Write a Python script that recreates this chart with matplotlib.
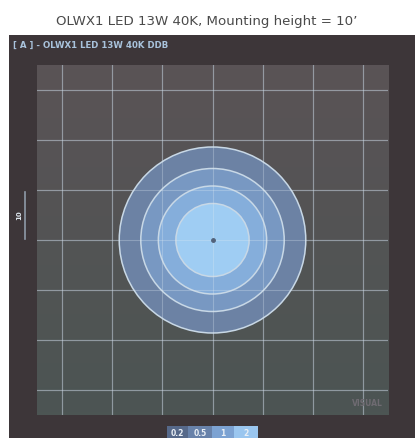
import numpy as np
import matplotlib.pyplot as plt
from matplotlib.patches import Circle, Rectangle
from matplotlib.colors import LinearSegmentedColormap

# isolines (fc) and their radius in feet
levels = [0.2, 0.5, 1, 2]
radii = [18.6, 14.3, 10.8, 7.3]
fills = ['#6c82a4', '#7898c2', '#85aedb', '#9fcdf3']
legend_cols = ['#56698a', '#6882aa', '#7ca2d2', '#9ac6ef']
grid_ft = [-30, -20, -10, 0, 10, 20, 30]
extent = 35

W, H = 415, 438
fig = plt.figure(figsize=(W / 100, H / 100), dpi=100)
fig.patch.set_facecolor('white')

def box(x0, y0, x1, y1):
    # pixel box (top-left origin) -> figure fraction
    return [x0 / W, 1 - y1 / H, (x1 - x0) / W, (y1 - y0) / H]

# dark panel behind everything
panel = fig.add_axes(box(9, 35, 415, 438))
panel.set_facecolor('#3d3639')
panel.set_xticks([])
panel.set_yticks([])
for s in panel.spines.values():
    s.set_visible(False)

fig.text(207 / W, 1 - 22 / H, 'OLWX1 LED 13W 40K, Mounting height = 10\u2019',
         ha='center', va='center', fontsize=9.6, color='#4a4a4a')
fig.text(13 / W, 1 - 45 / H, '[ A ] - OLWX1 LED 13W 40K DDB',
         ha='left', va='center', fontsize=6.2, color='#a9c3dc', weight='bold')

ax = fig.add_axes(box(37, 65, 388, 415))
ax.set_xlim(-extent, extent)
ax.set_ylim(-extent, extent)
# background shading, mauve at top to grey-green at bottom
grad = np.linspace(0, 1, 100)[:, None]
bg = LinearSegmentedColormap.from_list('bg', ['#4c5553', '#5a5356'])
ax.imshow(grad, cmap=bg, extent=(-extent, extent, -extent, extent),
          origin='lower', aspect='auto', zorder=0)

for g in grid_ft:
    ax.axvline(g, color='#9aa6b4', lw=0.9, alpha=0.45, zorder=1)
    ax.axhline(g, color='#9aa6b4', lw=0.9, alpha=0.45, zorder=1)

for r, c in zip(radii, fills):
    ax.add_patch(Circle((0, 0), r, facecolor=c, edgecolor='#c8d8e6',
                        lw=1.1, zorder=2))
for g in grid_ft:
    ax.axvline(g, color='#dce8f2', lw=0.8, alpha=0.3, zorder=3)
    ax.axhline(g, color='#dce8f2', lw=0.8, alpha=0.3, zorder=3)
ax.plot([0], [0], 'o', ms=2.5, color='#52627a', zorder=4)
ax.text(34, -33.5, 'VISUAL', ha='right', va='bottom', fontsize=5.5,
        color='#6f6b72', weight='bold', zorder=4)
ax.set_xticks([])
ax.set_yticks([])
for s in ax.spines.values():
    s.set_visible(False)

# 10 ft scale bar on the left
fig.add_artist(plt.Line2D([25 / W, 25 / W], [1 - 192 / H, 1 - 239 / H],
                          color='#8e9aa8', lw=1.2))
fig.text(19 / W, 1 - 215 / H, '10', rotation=90, ha='center', va='center',
         fontsize=5, color='#dde6ee', weight='bold')

# legend strip
lx = [167, 188, 212, 234, 258]
for i, (lev, c) in enumerate(zip(levels, legend_cols)):
    fig.add_artist(Rectangle((lx[i] / W, 0), (lx[i + 1] - lx[i]) / W, 12 / H,
                             transform=fig.transFigure, facecolor=c,
                             edgecolor='none'))
    fig.text((lx[i] + lx[i + 1]) / 2 / W, 5 / H, f'{lev:g}', ha='center',
             va='center', fontsize=5.5, color='#e8eef5', weight='bold')

fig.savefig('out.png', dpi=100)
